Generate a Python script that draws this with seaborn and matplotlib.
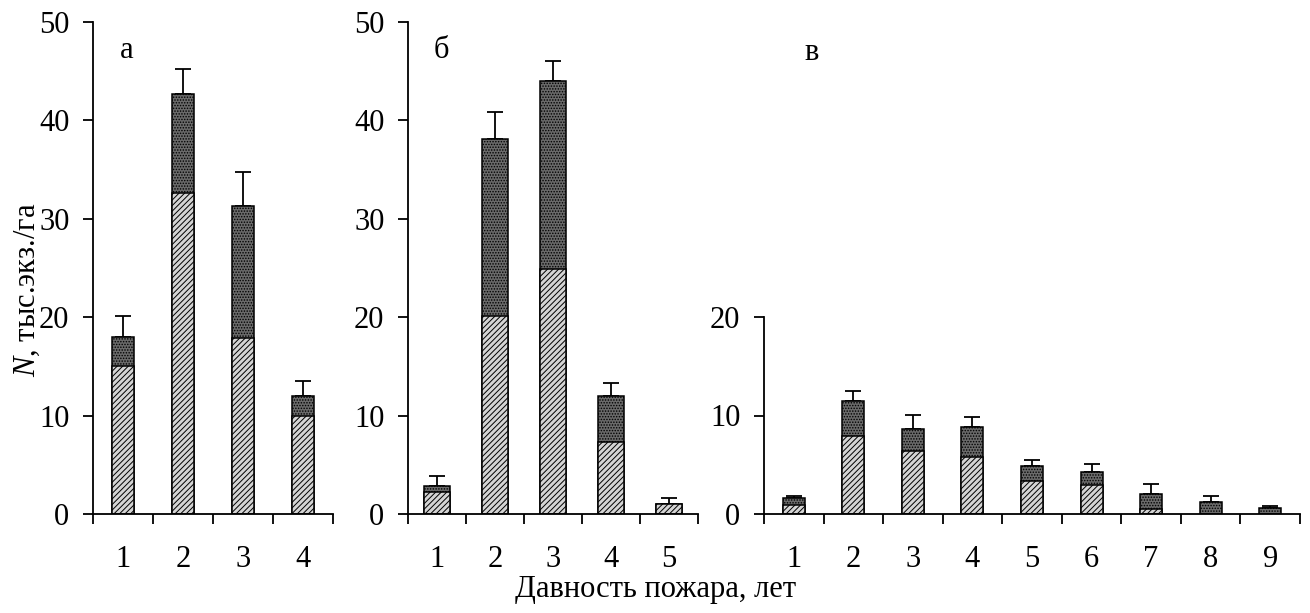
import numpy as np
import pandas as pd
import matplotlib
matplotlib.use("Agg")
import matplotlib.pyplot as plt
import seaborn as sns

# ---------------- data ----------------
cats_a = ["1", "2", "3", "4"]
lower_a = [15.0, 32.6, 17.9, 10.0]
total_a = [18.0, 42.7, 31.3, 12.0]
err_a = [2.1, 2.5, 3.5, 1.5]

cats_b = ["1", "2", "3", "4", "5"]
lower_b = [2.2, 20.1, 24.9, 7.3, 1.0]
total_b = [2.85, 38.1, 44.0, 12.0, 1.0]
err_b = [1.0, 2.8, 2.0, 1.3, 0.6]

cats_c = ["1", "2", "3", "4", "5", "6", "7", "8", "9"]
lower_c = [0.9, 7.95, 6.4, 5.8, 3.3, 2.9, 0.55, 0.0, 0.0]
total_c = [1.6, 11.5, 8.6, 8.8, 4.9, 4.3, 2.0, 1.2, 0.65]
err_c = [0.2, 1.0, 1.5, 1.0, 0.55, 0.8, 1.0, 0.6, 0.15]

panel_labels = ["а", "б", "в"]
xlabel = "Давность пожара, лет"
ylabel = r"$N$, тыс.экз./га"

# ---------------- style ----------------
sns.set_theme(style="ticks")
plt.rcParams["font.family"] = ["Liberation Serif", "DejaVu Serif"]
plt.rcParams["mathtext.fontset"] = "custom"
plt.rcParams["mathtext.it"] = "Liberation Serif:italic"
plt.rcParams["mathtext.rm"] = "Liberation Serif"
plt.rcParams["hatch.linewidth"] = 0.7
plt.rcParams["text.color"] = "black"
plt.rcParams["xtick.color"] = "black"
plt.rcParams["ytick.color"] = "black"
plt.rcParams["axes.edgecolor"] = "black"

FS = 22
DARK = "#6a6a6a"
LIGHT = "#d4d4d4"

W, H = 1310, 613
fig = plt.figure(figsize=(W / 100, H / 100), dpi=100)


def box(x0, x1, y_top, y_bot):
    return [x0 / W, 1 - y_bot / H, (x1 - x0) / W, (y_bot - y_top) / H]


ax_a = fig.add_axes(box(93, 333, 22, 514))
ax_b = fig.add_axes(box(408, 698, 22, 514))
ax_c = fig.add_axes(box(764, 1300, 317, 514))


def panel(ax, cats, lower, total, err, width, ymax):
    n = len(cats)
    df = pd.DataFrame({"cat": cats, "lower": lower, "total": total})
    sns.barplot(data=df, x="cat", y="total", color=DARK, saturation=1,
                edgecolor="black", linewidth=1.1, width=width,
                errorbar=None, ax=ax)
    n0 = len(ax.patches)
    sns.barplot(data=df, x="cat", y="lower", color=LIGHT, saturation=1,
                edgecolor="black", linewidth=1.1, width=width,
                errorbar=None, ax=ax)
    for i, p in enumerate(ax.patches):
        if i < n0:
            p.set_hatch("......")
        else:
            p.set_hatch("//////")
            if p.get_height() <= 0:
                p.set_visible(False)
    ax.errorbar(np.arange(n), total, yerr=[np.zeros(n), err], fmt="none",
                ecolor="black", elinewidth=1.3, capsize=5.5, capthick=1.3,
                zorder=0.5)
    ax.set_xlim(-0.5, n - 0.5)
    ax.set_ylim(0, ymax)
    ax.set_yticks(np.arange(0, ymax + 1, 10))
    ax.set_xticks(np.arange(n))
    ax.set_xticklabels(cats, fontsize=FS)
    ax.set_xticks(np.arange(n + 1) - 0.5, minor=True)
    ax.tick_params(axis="x", which="major", length=0, pad=22)
    ax.tick_params(axis="x", which="minor", length=7, width=1.3,
                   direction="out")
    ax.tick_params(axis="y", length=7, width=1.3, pad=10, direction="out",
                   labelsize=FS)
    ax.set_xlabel("")
    ax.set_ylabel("")
    sns.despine(ax=ax)
    for s in ("left", "bottom"):
        ax.spines[s].set_linewidth(1.3)
        ax.spines[s].set_color("black")
    ax.set_facecolor("white")


panel(ax_a, cats_a, lower_a, total_a, err_a, 0.37, 50)
panel(ax_b, cats_b, lower_b, total_b, err_b, 0.46, 50)
panel(ax_c, cats_c, lower_c, total_c, err_c, 0.37, 20)

fig.text(127 / W, 1 - 50 / H, panel_labels[0], fontsize=FS, ha="center", va="center")
fig.text(441 / W, 1 - 51 / H, panel_labels[1], fontsize=FS, ha="center", va="center")
fig.text(812 / W, 1 - 53 / H, panel_labels[2], fontsize=FS, ha="center", va="center")

fig.text(656 / W, 1 - 590 / H, xlabel, fontsize=FS, ha="center", va="center")
fig.text(27 / W, 1 - 290 / H, ylabel, fontsize=FS, ha="center", va="center",
         rotation=90)

fig.savefig("out.png", dpi=100, facecolor="white")
